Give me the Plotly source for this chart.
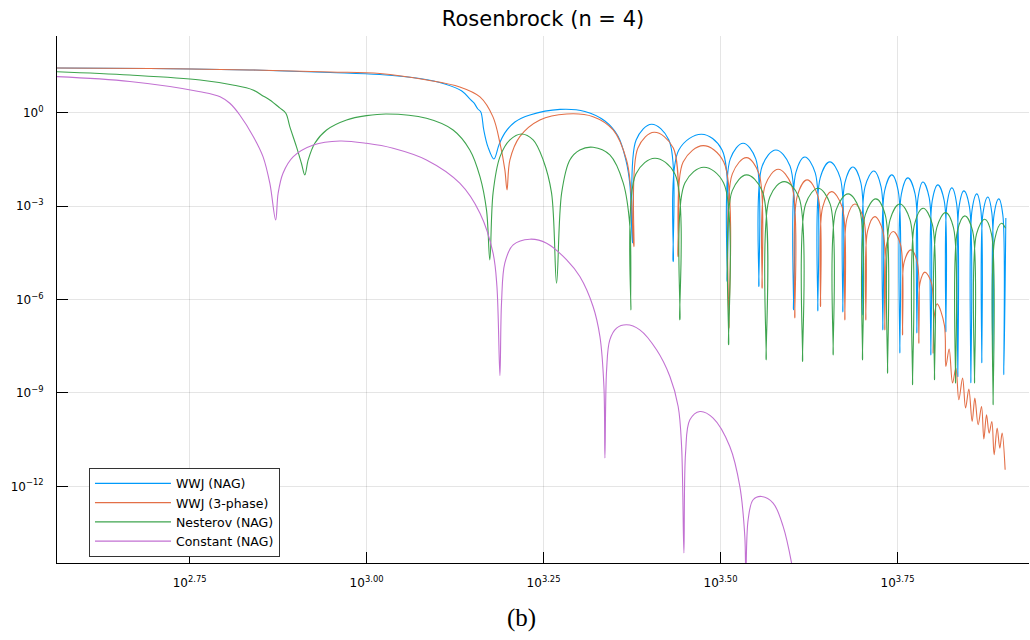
import plotly.graph_objects as go

# ---------------- data (iteration, value) ----------------
wwj_nag_iter = [365, 494, 684, 888, 1044, 1189, 1290, 1363, 1399, 1418, 1436, 1450, 1464,
                1484, 1513, 1538, 1568, 1620, 1701, 1876, 2034, 2171, 2265, 2324, 2355, 2374,
                2403, 2527, 2673, 2711,
                2761, 2973, 3178, 3231,
                3264, 3403, 3546, 3582,
                3621, 3785, 3964, 4009,
                4039, 4159, 4303, 4339,
                4373, 4512, 4667, 4707,
                4738, 4863, 4991, 5023,
                5059, 5206, 5330, 5361,
                5392, 5520, 5636, 5666,
                5695, 5815, 5953, 5988,
                6011, 6106, 6234, 6267,
                6295, 6411, 6546, 6580,
                6606, 6710, 6815, 6842,
                6869, 6977, 7105, 7138,
                7166, 7278, 7373, 7397,
                7426, 7543, 7642, 7667,
                7697, 7818, 7920, 7946,
                7998]
wwj_nag_val = [27.9, 26.9, 24.1, 20.0, 17.2, 12.8, 8.54, 5.09, 2.82, 2.10, 1.34, 1.08, 0.284,
               0.0809, 0.0333, 0.0938, 0.228, 0.514, 0.863, 1.30, 1.12, 0.553, 0.182, 0.0309, 0.00487, 6.67e-5,
               0.136, 0.434, 0.136, 1.67e-5,
               0.0648, 0.207, 0.0648, 3.81e-6,
               0.0333, 0.106, 0.0333, 2.63e-6,
               0.0198, 0.0648, 0.0198, 4.70e-7,
               0.0118, 0.0386, 0.0118, 4.36e-7,
               0.00817, 0.0267, 0.00817, 4.05e-7,
               0.00564, 0.0184, 0.00564, 3.24e-7,
               0.00420, 0.0137, 0.00420, 1.07e-7,
               0.00312, 0.0102, 0.00312, 1.95e-8,
               0.00250, 0.00817, 0.00250, 8.57e-8,
               0.00186, 0.00607, 0.00186, 1.68e-8,
               0.00149, 0.00487, 0.00149, 9.23e-8,
               0.00119, 0.00390, 0.00119, 3.31e-9,
               9.56e-4, 0.00312, 9.56e-4, 2.12e-9,
               7.66e-4, 0.00250, 7.66e-4, 9.31e-9,
               6.13e-4, 0.00200, 6.13e-4, 6.93e-9,
               5.29e-4, 0.00173, 5.29e-4, 3.84e-9,
               4.24e-4]

wwj_3phase_iter = [365, 494, 684, 888, 1044, 1217, 1354, 1446, 1508, 1543, 1568, 1579, 1594,
                   1646, 1757, 1917, 2089, 2230, 2329, 2362, 2385,
                   2417, 2548, 2712, 2755,
                   2800, 2989, 3195, 3249,
                   3286, 3441, 3584, 3620,
                   3658, 3814, 3983, 4026,
                   4059, 4191, 4339, 4377,
                   4409, 4537, 4696, 4738,
                   4769, 4894, 5036, 5072,
                   5102, 5223, 5361, 5396,
                   5426, 5544, 5680, 5716,
                   5747, 5872, 5995, 6027,
                   6050, 6146, 6279, 6314,
                   6332, 6396, 6548, 6580, 6651, 6725, 6798, 6864, 6948, 7016, 7091,
                   7168, 7231, 7309, 7390, 7446, 7511, 7575, 7642, 7699, 7775, 7843,
                   7902, 7980]
wwj_3phase_val = [27.9, 26.9, 24.1, 20.75, 18.57, 11.48, 6.84, 3.27, 0.761, 0.109, 0.0148, 0.00336, 0.0309,
                  0.173, 0.596, 0.929, 0.761, 0.284, 0.0309, 0.00336, 5.07e-5,
                  0.0751, 0.240, 0.0751, 2.42e-5,
                  0.0267, 0.0891, 0.0267, 1.21e-7,
                  0.0110, 0.0367, 0.0110, 2.34e-6,
                  0.00487, 0.0155, 0.00487, 2.60e-7,
                  0.00216, 0.00704, 0.00216, 6.00e-7,
                  9.56e-4, 0.00296, 9.56e-4, 2.24e-7,
                  3.94e-4, 0.00119, 3.94e-4, 2.24e-7,
                  1.62e-4, 4.66e-4, 1.62e-4, 1.07e-7,
                  5.75e-5, 1.54e-4, 5.75e-5, 7.39e-8,
                  1.64e-5, 3.97e-5, 1.64e-5, 4.00e-8,
                  3.46e-6, 7.63e-6, 3.46e-6, 1.91e-8,
                  2.60e-7, 7.32e-7, 1.55e-7, 7.09e-9, 2.57e-8, 2.08e-9, 6.29e-9, 6.03e-10, 3.00e-9, 3.27e-10, 1.33e-9,
                  1.21e-10, 6.84e-10, 9.50e-11, 3.68e-10, 3.30e-11, 1.99e-10, 5.14e-11, 1.21e-10, 1.03e-11, 7.44e-11, 1.69e-11,
                  5.14e-11, 3.40e-12]

nesterov_iter = [365, 463, 582, 647, 691, 714, 730, 754, 769, 779, 796, 809, 818, 827, 845, 878, 937,
                 1000, 1067, 1215, 1325, 1399, 1446, 1477, 1493,
                 1509, 1543, 1594, 1655, 1719, 1776, 1825, 1855,
                 1886, 1937, 2001, 2089, 2206, 2304, 2355, 2362,
                 2401, 2554, 2726, 2770,
                 2816, 2995, 3194, 3246,
                 3284, 3441, 3621, 3668,
                 3712, 3889, 4079, 4129,
                 4171, 4343, 4516, 4561,
                 4605, 4789, 4971, 5018,
                 5063, 5240, 5403, 5444,
                 5488, 5666, 5857, 5905,
                 5945, 6112, 6295, 6342,
                 6388, 6574, 6747, 6791,
                 6833, 7000, 7179, 7224,
                 7271, 7470, 7632, 7674,
                 7717, 7887, 7990]
nesterov_val = [21.2, 16.6, 11.5, 7.93, 5.48, 3.52, 2.62, 1.45, 0.978, 0.363, 0.0827, 0.0242, 0.0102, 0.0309, 0.106, 0.284, 0.596,
                0.819, 0.929, 0.676, 0.284, 0.0648, 0.00899, 7.66e-4, 1.90e-5,
                0.00269, 0.0386, 0.136, 0.2115, 0.136, 0.0309, 0.00269, 3.38e-6,
                0.00269, 0.0309, 0.0648, 0.0791, 0.0448, 0.00564, 2.18e-4, 4.70e-7,
                0.0110, 0.0351, 0.0110, 2.24e-7,
                0.00564, 0.0180, 0.00564, 3.53e-8,
                0.00312, 0.0102, 0.00312, 1.16e-8,
                0.00200, 0.00621, 0.00200, 1.03e-8,
                0.00119, 0.00381, 0.00119, 1.68e-8,
                7.66e-4, 0.00250, 7.66e-4, 1.16e-8,
                5.29e-4, 0.00173, 5.29e-4, 4.35e-9,
                3.65e-4, 0.00119, 3.65e-4, 1.83e-9,
                2.72e-4, 8.68e-4, 2.72e-4, 2.65e-9,
                2.02e-4, 6.27e-4, 2.02e-4, 2.08e-9,
                1.62e-4, 4.91e-4, 1.62e-4, 2.08e-9,
                1.30e-4, 3.85e-4, 1.30e-4, 4.17e-10,
                8.97e-5, 2.86e-4, 1.98e-4]

constant_iter = [365, 463, 582, 621, 641, 662, 692, 714, 730, 744, 750, 762, 788, 841, 917, 1000, 1090,
                 1215, 1354, 1446, 1509, 1528, 1543, 1551, 1568, 1611, 1701, 1796, 1917, 2001, 2089,
                 2136, 2164, 2171, 2183, 2206, 2255, 2329, 2432, 2568, 2682, 2755, 2786, 2807, 2822,
                 2862, 2957, 3087, 3259, 3367, 3422, 3433, 3459, 3516, 3613, 3752, 3876, 3983, 4026]
constant_val = [14.7, 10.3, 4.83, 3.34, 2.05, 0.863, 0.173, 0.0395, 0.00552, 3.65e-4, 0.00263, 0.0116, 0.0395,
                0.0938, 0.126, 0.106, 0.0735, 0.0309, 0.00552, 6.0e-4, 3.11e-5, 2.63e-6, 3.64e-9, 7.88e-7,
                1.52e-5, 5.75e-5, 8.77e-5, 6.52e-5, 1.90e-5, 5.51e-6, 6.00e-7, 6.52e-8, 1.61e-9, 8.09e-12,
                5.55e-9, 5.10e-8, 1.21e-7, 1.55e-7, 1.07e-7, 2.44e-8, 3.38e-9, 3.68e-10, 1.91e-11, 7.18e-15,
                1.17e-11, 1.37e-10, 2.54e-10, 1.56e-10, 1.91e-11, 9.90e-13, 2.45e-14, 1.44e-15, 8.43e-14,
                3.70e-13, 4.72e-13, 2.90e-13, 5.13e-14, 3.50e-15, 6.88e-16]

series_names = ["WWJ (NAG)", "WWJ (3-phase)", "Nesterov (NAG)", "Constant (NAG)"]
series_colors = ["#009AFA", "#E36F47", "#3EA44E", "#C271D2"]

x_tick_exponents = [2.75, 3.00, 3.25, 3.50, 3.75]
x_tick_labels = ["10<sup>2.75</sup>", "10<sup>3.00</sup>", "10<sup>3.25</sup>",
                 "10<sup>3.50</sup>", "10<sup>3.75</sup>"]
y_tick_exponents = [0, -3, -6, -9, -12]
y_tick_labels = ["10<sup>0</sup>", "10<sup>\u22123</sup>", "10<sup>\u22126</sup>",
                 "10<sup>\u22129</sup>", "10<sup>\u221212</sup>"]

xs = [wwj_nag_iter, wwj_3phase_iter, nesterov_iter, constant_iter]
ys = [wwj_nag_val, wwj_3phase_val, nesterov_val, constant_val]
for a, b in zip(xs, ys):
    assert len(a) == len(b), (len(a), len(b))

FONT = "DejaVu Sans"
fig = go.Figure()
for name, color, x, y in zip(series_names, series_colors, xs, ys):
    fig.add_trace(go.Scatter(
        x=x, y=y, name=name, mode="lines",
        line=dict(color=color, width=1.1, shape="spline", smoothing=1.0, simplify=False),
    ))

axis_common = dict(
    showline=True, linecolor="black", linewidth=1,
    showgrid=True, gridcolor="rgba(0,0,0,0.1)", gridwidth=1,
    ticks="inside", ticklen=11, tickwidth=1, tickcolor="black",
    zeroline=False, mirror=False, automargin=False,
    tickfont=dict(family=FONT, size=12, color="black"),
)

fig.update_layout(
    width=1030, height=640,
    margin=dict(l=57, r=1, t=36, b=77),
    paper_bgcolor="white", plot_bgcolor="white",
    hovermode=False,
    font=dict(family=FONT, size=12, color="black"),
    title=dict(text="Rosenbrock (n = 4)", x=0.5, xref="paper", xanchor="center",
               y=1 - 19 / 640, yref="container", yanchor="middle",
               font=dict(family=FONT, size=21, color="black")),
    xaxis=dict(type="log", range=[2.5627, 3.9357],
               tickvals=[10 ** e for e in x_tick_exponents], ticktext=x_tick_labels,
               ticklabelstandoff=9,
               **axis_common),
    yaxis=dict(type="log", range=[-14.465, 2.4735],
               tickvals=[10 ** e for e in y_tick_exponents], ticktext=y_tick_labels,
               ticklabelstandoff=10,
               **axis_common),
    legend=dict(x=0.0329, y=0.1807, xanchor="left", yanchor="top",
                bgcolor="white", bordercolor="#333333", borderwidth=1,
                font=dict(family=FONT, size=12.5, color="black"),
                itemwidth=76, tracegroupgap=0),
    annotations=[dict(text="(b)", xref="paper", yref="paper", x=0.478, y=-0.1037,
                      xanchor="center", yanchor="middle", showarrow=False,
                      font=dict(family="Liberation Serif", size=25, color="black"))],
)

fig.write_html(
    "out.html",
    config={"displayModeBar": False, "staticPlot": True},
    post_script="document.body.style.margin='0px';document.body.style.overflow='hidden';",
)
